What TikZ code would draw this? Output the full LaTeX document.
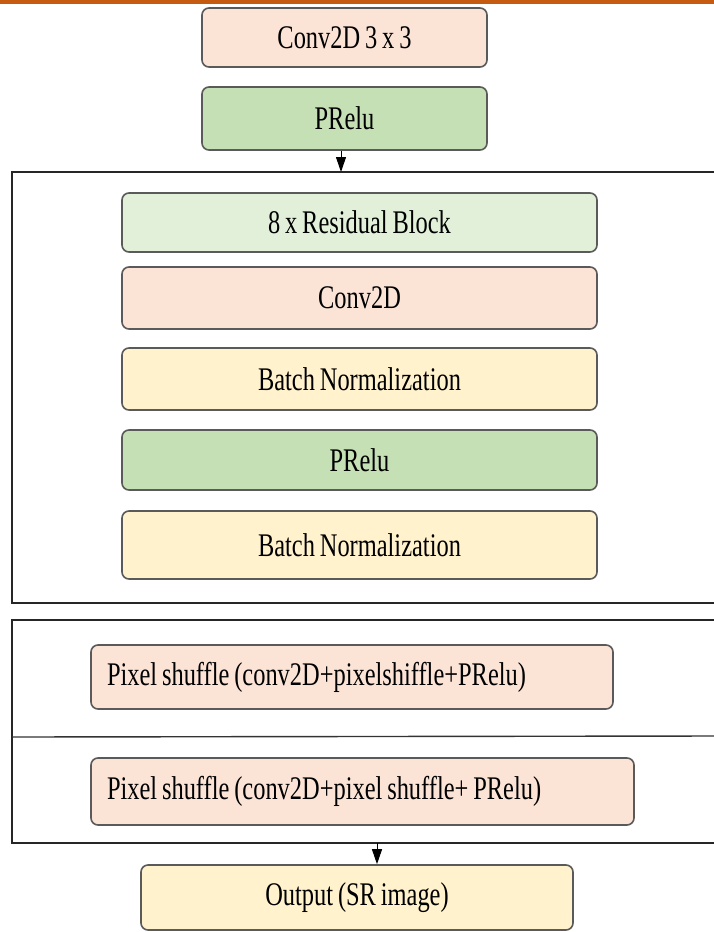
\documentclass[tikz,border=0pt]{standalone}
\usepackage{fontspec}
\setmainfont[FakeStretch=0.74,WordSpace=0.8]{Liberation Serif}
\usetikzlibrary{arrows.meta}
\definecolor{cpink}{HTML}{FBE3D6}
\definecolor{cgreen}{HTML}{C5E0B4}
\definecolor{clgreen}{HTML}{E2F0D9}
\definecolor{cyellow}{HTML}{FFF2CC}
\definecolor{cedge}{HTML}{5A5A5A}
\definecolor{corange}{HTML}{C55A11}
\tikzset{
  blk/.style={draw=cedge, line width=1.6pt, rounded corners=7pt, inner sep=0pt,
    font=\fontsize{33}{36}\selectfont, text=black},
  grp/.style={draw=black!85, line width=1.4pt},
  arr/.style={-{Triangle[width=10pt,length=15pt]}, line width=1pt, black},
}
\begin{document}
\begin{tikzpicture}[x=1pt,y=-1pt]
\useasboundingbox (0,0) rectangle (714,932);
\begin{scope}
\clip (0,0) rectangle (714,932);
\fill[corange] (0,0) rectangle (714,3.5);
% group frames
\draw[grp] (720,172) -- (12,172) -- (12,603) -- (720,603);
\draw[grp] (720,620) -- (12,620) -- (12,843) -- (720,843);
\draw[black!80, line width=1.4pt] (12,737) -- (720,736);
% nodes
\node[blk, fill=cpink, minimum width=285pt, minimum height=59pt] (c33) at (344.5,37.5) {Conv2D 3 x 3};
\node[blk, fill=cgreen, minimum width=285pt, minimum height=63pt] (pr0) at (344.5,118.5) {PRelu};
\node[blk, fill=clgreen, minimum width=475pt, minimum height=59pt] (res) at (359.5,222.5) {8 x Residual Block};
\node[blk, fill=cpink, minimum width=475pt, minimum height=62pt] (cv) at (359.5,298) {Conv2D};
\node[blk, fill=cyellow, minimum width=475pt, minimum height=62pt] (bn1) at (359.5,379) {Batch Normalization};
\node[blk, fill=cgreen, minimum width=475pt, minimum height=60pt] (pr1) at (359.5,460) {PRelu};
\node[blk, fill=cyellow, minimum width=475pt, minimum height=68pt] (bn2) at (359.5,545) {Batch Normalization};
\node[blk, fill=cpink, minimum width=522pt, minimum height=64pt] (ps1) at (352,677) {\makebox[490pt][l]{Pixel shuffle (conv2D+pixelshiffle+PRelu)}};
\node[blk, fill=cpink, minimum width=543pt, minimum height=67pt] (ps2) at (362.5,791.5) {\makebox[511pt][l]{Pixel shuffle (conv2D+pixel shuffle+ PRelu)}};
\node[blk, fill=cyellow, minimum width=432pt, minimum height=65pt] (out) at (357,897.5) {Output (SR image)};
% connectors
\coordinate (g1top) at (341,172);
\coordinate (g2bot) at (377,843);
\draw[arr] (pr0.south -| g1top) -- (g1top);
\draw[arr] (g2bot) -- (out.north -| g2bot);
\end{scope}
\end{tikzpicture}
\end{document}
